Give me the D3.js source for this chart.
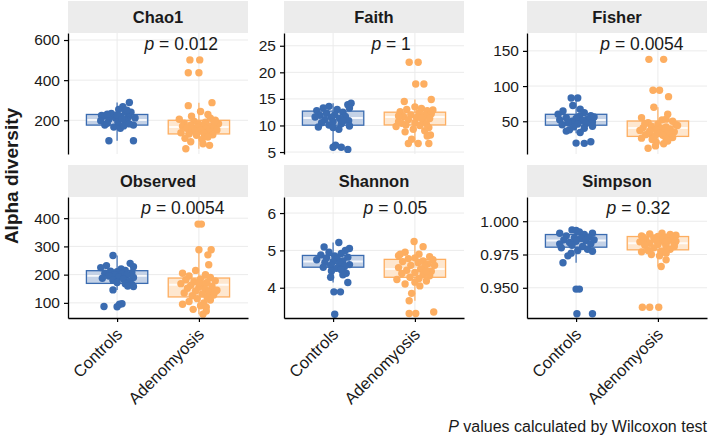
<!DOCTYPE html>
<html><head><meta charset="utf-8">
<script src="https://cdn.jsdelivr.net/npm/d3@7"></script>
<style>body{margin:0;background:#fff}svg{display:block}</style>
</head><body>
<svg id="chart" width="709" height="437"></svg>
<script>
// ---------------- data ----------------
const groups = ["Controls", "Adenomyosis"];
const metrics = ["Chao1", "Faith", "Fisher", "Observed", "Shannon", "Simpson"];
const pLabels = ["0.012", "1", "0.0054", "0.0054", "0.05", "0.32"];
const yLimits = [[32, 635], [4.63, 27.4], [3.5, 175.4], [46.4, 475], [3.19, 6.43], [0.9273, 1.0182]];
const yTicks = [[200, 400, 600], [5, 10, 15, 20, 25], [50, 100, 150], [100, 200, 300, 400], [4, 5, 6], [0.95, 0.975, 1.0]];
// box stats: [lower whisker, q1, median, q3, upper whisker]
const boxControls = [[98, 176, 201, 229, 289], [6.3, 10.05, 11.4, 12.7, 14.2], [33, 44.4, 51.8, 59.9, 83], [146, 169, 196, 214, 268], [4.14, 4.55, 4.70, 4.865, 5.21], [0.9688, 0.9805, 0.9855, 0.990, 0.9935]];
const boxAdenomyosis = [[58, 132, 166, 200, 288], [6.6, 10.1, 11.6, 12.5, 14.9], [11.6, 28.5, 40.5, 50.4, 70], [60, 121, 164, 188, 288], [3.65, 4.28, 4.5, 4.76, 5.24], [0.966, 0.9785, 0.9835, 0.9885, 0.991]];
// samples: [value, jitter (fraction of category step)]
const chao1Controls = [[98,-0.10],[98,0.20],[289,0.15],[268,0.07],[254,0.02],[240,0.17],[234,-0.07],[224,-0.19],[220,-0.17],[219,0.05],[218,0.14],[212,-0.02],[205,-0.10],[202,0.12],[196,0.10],[190,0.01],[176,-0.15],[176,0.20],[166,-0.04],[160,0.04],[185,-0.12],[226,0.00],[244,0.10],[212,0.22],[198,-0.20],[172,0.08],[230,-0.12],[250,0.12],[182,0.15],[208,0.06]];
const chao1Adenomyosis = [[501,-0.11],[501,0.01],[437,-0.13],[437,0.00],[288,0.16],[273,-0.13],[244,0.02],[229,0.11],[205,-0.24],[200,0.20],[196,-0.06],[190,0.08],[186,-0.18],[183,0.24],[180,0.00],[176,-0.10],[172,0.14],[170,-0.20],[168,0.05],[165,-0.02],[162,0.18],[160,-0.15],[158,0.09],[155,-0.08],[152,0.22],[150,0.02],[146,-0.05],[142,0.12],[138,-0.22],[135,0.06],[132,-0.12],[128,0.17],[125,-0.03],[120,0.10],[117,0.11],[110,-0.17],[105,0.04],[93,-0.10],[83,0.05],[75,0.13],[58,-0.16],[210,0.14],[220,-0.09],[192,0.19]];
const faithControls = [[14.2,0.22],[13.9,0.18],[13.6,-0.05],[13.3,-0.12],[13.3,0.20],[13.0,0.05],[12.8,-0.20],[12.5,0.12],[12.3,-0.08],[12.0,0.02],[11.9,-0.16],[11.7,0.15],[11.5,-0.02],[11.3,0.08],[11.1,-0.10],[10.9,0.19],[10.7,0.00],[10.5,-0.14],[10.3,0.10],[10.1,-0.05],[9.9,0.20],[9.7,-0.18],[9.6,0.00],[9.3,0.07],[10.8,0.12],[11.6,-0.22],[6.3,0.03],[5.9,0.00],[5.9,0.10],[5.5,0.18]];
const faithAdenomyosis = [[21.9,-0.07],[21.9,0.04],[17.8,0.01],[17.8,0.11],[14.9,0.20],[14.5,-0.13],[13.5,0.00],[13.2,0.08],[13.0,-0.10],[12.8,0.15],[12.6,-0.18],[12.4,0.05],[12.2,0.20],[12.0,-0.05],[11.9,0.12],[11.7,-0.14],[11.5,0.02],[11.3,0.18],[11.1,-0.08],[10.9,0.10],[10.7,-0.20],[10.5,0.00],[10.3,0.14],[10.1,-0.11],[10.0,0.06],[9.8,-0.23],[9.6,0.17],[9.3,-0.02],[9.0,0.12],[8.8,-0.12],[8.2,0.19],[8.0,0.15],[7.4,-0.04],[6.6,-0.08],[6.6,0.04],[6.6,0.17],[12.9,0.22],[11.8,-0.20],[10.4,-0.16],[11.4,0.08]];
const fisherControls = [[83,-0.06],[83,0.02],[72.5,-0.04],[67,0.05],[64.5,-0.16],[62,0.10],[60,-0.22],[58,0.18],[57,0.04],[55,-0.12],[54,0.00],[53,0.14],[52,-0.20],[51,0.08],[50,-0.05],[49,0.20],[48,-0.10],[47,0.12],[46,0.02],[45,-0.17],[43,0.20],[42,-0.03],[40,0.10],[38,-0.08],[36,-0.12],[34,0.05],[19,0.00],[18.6,0.10],[20.9,0.18],[56,0.22]];
const fisherAdenomyosis = [[138,-0.11],[138,0.07],[94,-0.06],[94,0.02],[85,0.13],[70,-0.05],[60,0.12],[55,-0.20],[52,0.05],[50,0.18],[48,-0.12],[46,0.00],[45,0.22],[43,-0.08],[42,0.10],[41,-0.18],[40,0.04],[39,0.15],[38,-0.02],[37,-0.22],[36,0.08],[35,0.20],[34,-0.10],[33,0.02],[32,0.14],[31,-0.15],[30,0.06],[29,-0.04],[27,0.18],[26,-0.20],[25,0.10],[24,-0.07],[22,0.12],[20,-0.02],[18,0.07],[15,-0.03],[11.6,-0.12],[44,0.24],[47,-0.16],[36,-0.10],[53,0.10]];
const observedControls = [[268,-0.05],[240,0.16],[232,-0.13],[228,0.20],[225,-0.20],[220,0.05],[215,0.10],[212,-0.08],[210,0.00],[207,0.18],[205,-0.15],[202,0.06],[200,-0.03],[198,0.12],[195,-0.10],[192,0.02],[190,0.20],[187,-0.18],[184,0.08],[180,-0.05],[176,0.15],[172,0.00],[168,0.10],[165,0.18],[160,0.13],[158,0.20],[146,-0.05],[87,-0.16],[86,0.00],[95,0.03],[97,0.06]];
const observedAdenomyosis = [[379,-0.01],[379,0.03],[288,0.00],[288,0.15],[270,0.11],[235,0.12],[215,-0.04],[205,-0.20],[200,0.08],[195,-0.12],[190,0.14],[185,0.02],[182,-0.16],[178,0.20],[175,-0.06],[172,0.10],[168,-0.22],[165,0.05],[162,-0.10],[158,0.16],[155,0.00],[152,-0.14],[148,0.08],[145,0.22],[142,-0.04],[138,0.12],[135,-0.18],[132,0.04],[128,0.18],[125,-0.08],[120,0.10],[115,-0.02],[110,0.14],[105,-0.12],[100,0.06],[95,-0.20],[90,0.02],[85,0.09],[77,-0.07],[71,0.09],[60,0.05],[140,0.20],[170,0.00]];
const shannonControls = [[5.21,0.07],[5.09,-0.11],[5.05,0.20],[5.0,0.15],[4.95,-0.05],[4.92,0.10],[4.88,-0.15],[4.85,0.02],[4.82,0.18],[4.8,-0.08],[4.78,0.05],[4.75,-0.20],[4.72,0.12],[4.7,0.00],[4.68,-0.10],[4.65,0.08],[4.62,0.20],[4.6,-0.03],[4.57,0.14],[4.55,-0.12],[4.52,0.04],[4.48,0.10],[4.45,-0.02],[4.39,0.16],[4.28,-0.03],[4.14,0.18],[3.89,0.01],[3.89,0.09],[3.29,0.02],[4.35,0.12]];
const shannonAdenomyosis = [[5.24,-0.01],[5.1,0.10],[4.95,-0.12],[4.9,0.05],[4.86,-0.20],[4.83,0.18],[4.8,0.00],[4.78,-0.08],[4.75,0.22],[4.72,0.10],[4.7,-0.15],[4.67,0.04],[4.64,0.16],[4.6,-0.05],[4.57,0.12],[4.54,-0.20],[4.5,0.07],[4.47,-0.10],[4.44,0.20],[4.41,0.00],[4.38,-0.16],[4.35,0.10],[4.32,0.18],[4.28,-0.06],[4.25,0.05],[4.22,-0.22],[4.18,0.14],[4.15,0.00],[4.1,-0.12],[4.05,0.06],[3.85,-0.04],[3.65,-0.07],[3.31,-0.07],[3.31,0.01],[3.35,0.23],[4.6,0.24],[4.9,-0.18],[4.45,0.14]];
const simpsonControls = [[0.9935,-0.05],[0.993,0.00],[0.992,0.04],[0.991,-0.20],[0.991,0.20],[0.990,0.10],[0.989,-0.12],[0.988,0.15],[0.9875,-0.02],[0.987,0.06],[0.986,-0.15],[0.9855,0.12],[0.985,0.00],[0.984,-0.08],[0.983,0.18],[0.982,-0.05],[0.981,0.08],[0.980,-0.18],[0.979,0.14],[0.978,0.02],[0.9775,0.20],[0.976,-0.06],[0.974,-0.10],[0.9688,-0.16],[0.949,0.00],[0.949,0.04],[0.9305,0.01],[0.9305,0.20],[0.986,0.22],[0.983,-0.20]];
const simpsonAdenomyosis = [[0.991,0.05],[0.9905,-0.10],[0.990,0.15],[0.9895,0.22],[0.989,-0.20],[0.9885,0.00],[0.988,0.10],[0.9875,-0.05],[0.987,0.18],[0.9865,-0.15],[0.986,0.05],[0.9855,-0.02],[0.985,0.12],[0.9845,-0.22],[0.984,0.08],[0.9835,-0.10],[0.983,0.20],[0.9825,0.00],[0.982,-0.16],[0.981,0.10],[0.980,-0.05],[0.979,0.15],[0.978,-0.12],[0.9775,0.04],[0.977,-0.20],[0.976,0.10],[0.975,-0.08],[0.974,0.02],[0.971,0.10],[0.966,0.04],[0.9354,-0.19],[0.9354,-0.10],[0.9354,0.01],[0.985,0.22],[0.988,-0.18],[0.981,0.20]];
const samplesControls = [chao1Controls, faithControls, fisherControls, observedControls, shannonControls, simpsonControls];
const samplesAdenomyosis = [chao1Adenomyosis, faithAdenomyosis, fisherAdenomyosis, observedAdenomyosis, shannonAdenomyosis, simpsonAdenomyosis];
const yTitle = "Alpha diversity";
const captionRest = " values calculated by Wilcoxon test";

// ---------------- layout / style ----------------
const FONT = "'Liberation Sans', Arial, Helvetica, sans-serif";
const colors = ["#3A6BB0", "#FDAE61"];
const panelLeft = [68, 284, 527];
const panelW = 180;
const stripTop = [1, 165];
const stripH = 32;
const panelH = 121;
const textCol = "#1a1a1a";

const svg = d3.select("#chart").style("font-family", FONT);

metrics.forEach((m, i) => {
  const col = i % 3, row = Math.floor(i / 3);
  const x0 = panelLeft[col], sTop = stripTop[row], y0 = sTop + stripH;
  const x = d3.scalePoint().domain(groups).range([x0, x0 + panelW]).padding(0.6);
  const step = x.step();
  const y = d3.scaleLinear().domain(yLimits[i]).range([y0 + panelH, y0]);
  const g = svg.append("g");

  // strip
  g.append("rect").attr("x", x0).attr("y", sTop).attr("width", panelW).attr("height", stripH).attr("fill", "#ececec");
  g.append("text").attr("x", x0 + panelW / 2).attr("y", sTop + stripH / 2).attr("dy", "0.36em")
    .attr("text-anchor", "middle").attr("font-weight", "bold").attr("font-size", 16.5).attr("fill", textCol).text(m);

  // grid
  g.selectAll(".gy").data(yTicks[i]).join("line")
    .attr("x1", x0).attr("x2", x0 + panelW).attr("y1", d => y(d)).attr("y2", d => y(d))
    .attr("stroke", "#ebebeb").attr("stroke-width", 1);
  g.selectAll(".gx").data(groups).join("line")
    .attr("x1", d => x(d)).attr("x2", d => x(d)).attr("y1", y0).attr("y2", y0 + panelH)
    .attr("stroke", "#ebebeb").attr("stroke-width", 1);

  // boxes
  const boxes = [boxControls[i], boxAdenomyosis[i]];
  const bw = step * 0.75;
  groups.forEach((grp, k) => {
    const b = boxes[k], cx = x(grp), c = colors[k];
    g.append("line").attr("x1", cx).attr("x2", cx).attr("y1", y(b[0])).attr("y2", y(b[1])).attr("stroke", c).attr("stroke-width", 1.2);
    g.append("line").attr("x1", cx).attr("x2", cx).attr("y1", y(b[3])).attr("y2", y(b[4])).attr("stroke", c).attr("stroke-width", 1.2);
    g.append("rect").attr("x", cx - bw / 2).attr("y", y(b[3])).attr("width", bw).attr("height", y(b[1]) - y(b[3]))
      .attr("fill", c).attr("fill-opacity", 0.3).attr("stroke", c).attr("stroke-width", 1.3);
    g.append("line").attr("x1", cx - bw / 2 + 1).attr("x2", cx + bw / 2 - 1).attr("y1", y(b[2])).attr("y2", y(b[2]))
      .attr("stroke", "#ffffff").attr("stroke-opacity", 0.85).attr("stroke-width", 2);
  });

  // points
  const sets = [samplesControls[i], samplesAdenomyosis[i]];
  groups.forEach((grp, k) => {
    g.selectAll(null).data(sets[k]).join("circle")
      .attr("cx", d => x(grp) + d[1] * step).attr("cy", d => y(d[0])).attr("r", 3.7)
      .attr("fill", colors[k]);
  });

  // y axis
  const fmt = i === 5 ? d3.format(".3f") : d3.format("d");
  const ya = g.append("g").attr("transform", `translate(${x0},0)`)
    .call(d3.axisLeft(y).tickValues(yTicks[i]).tickSize(4).tickSizeOuter(0).tickPadding(4).tickFormat(fmt));
  ya.select(".domain").attr("stroke", "#000").attr("stroke-width", 1.3);
  ya.selectAll(".tick line").attr("stroke", "#000").attr("stroke-width", 1.2);
  ya.selectAll(".tick text").attr("font-size", 15.5).attr("fill", textCol).attr("font-family", FONT);

  // x axis (bottom row only)
  if (row === 1) {
    const xa = g.append("g").attr("transform", `translate(0,${y0 + panelH})`)
      .call(d3.axisBottom(x).tickSize(4).tickSizeOuter(0).tickFormat(""));
    xa.select(".domain").attr("stroke", "#000").attr("stroke-width", 1.3);
    xa.selectAll(".tick line").attr("stroke", "#000").attr("stroke-width", 1.2);
    groups.forEach(grp => {
      g.append("text").attr("transform", `translate(${x(grp) - 2},${y0 + panelH + 9}) rotate(-45)`)
        .attr("text-anchor", "end").attr("dy", "0.71em").attr("font-size", 16.5).attr("fill", textCol).text(grp);
    });
  }

  // p label
  const mid = (x(groups[0]) + x(groups[1])) / 2;
  const pt = g.append("text").attr("y", y0 + 17).attr("font-size", 17.5).attr("fill", textCol);
  pt.append("tspan").attr("font-style", "italic").text("p");
  pt.append("tspan").text(" = " + pLabels[i]);
  const w = pt.node().getComputedTextLength();
  pt.attr("x", mid + 10 - 0.32 * w);
});

// y title
svg.append("text").attr("transform", "translate(18,176) rotate(-90)").attr("text-anchor", "middle")
  .attr("font-weight", "bold").attr("font-size", 19).attr("fill", textCol).text(yTitle);

// caption
const cap = svg.append("text").attr("x", 707).attr("y", 432).attr("text-anchor", "end").attr("font-size", 16).attr("fill", textCol);
cap.append("tspan").attr("font-style", "italic").text("P");
cap.append("tspan").text(captionRest);
</script>
</body></html>
